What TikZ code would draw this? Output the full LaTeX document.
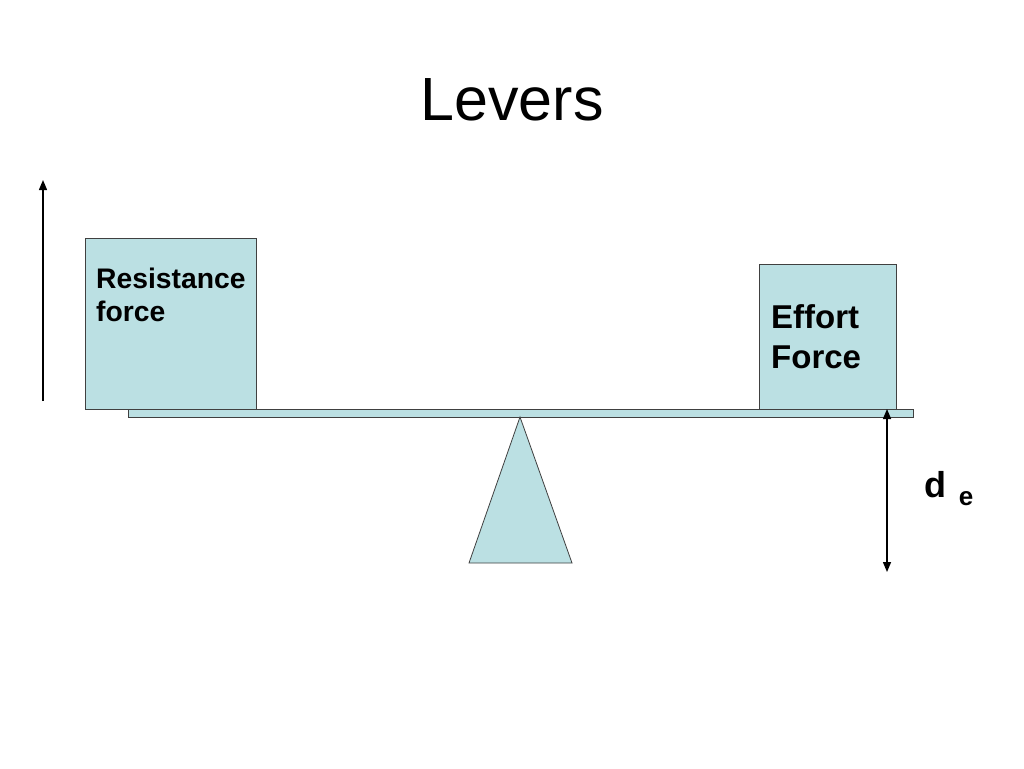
\documentclass[tikz,border=0pt]{standalone}
\usepackage{fontspec}
\setmainfont{Liberation Sans}
\usetikzlibrary{arrows.meta}
\definecolor{leverfill}{HTML}{BBE0E3}
\begin{document}
\begin{tikzpicture}[x=1pt,y=-1pt,
  part/.style={draw=black!75,line width=0.8pt,fill=leverfill},
  arr/.style={line width=1.4pt,-{Triangle[length=10pt,width=8pt]}},
  dbl/.style={line width=1.4pt,{Triangle[length=10pt,width=8pt]}-{Triangle[length=10pt,width=8pt]}},
  lbl/.style={font=\bfseries,align=left,anchor=north west,inner sep=0pt}]
\useasboundingbox[fill=white] (0,0) rectangle (1024,768);
\node[font=\fontsize{61}{70}\selectfont,anchor=base,inner sep=0pt] (title) at (512,120) {Levers};
% beam
\draw[part] (128,409) rectangle (913,417);
\coordinate (beamR) at (887,409);
% boxes
\draw[part] (85,238) rectangle (256,409);
\draw[part] (759,264) rectangle (896,409);
% fulcrum
\draw[part] (520,417) -- (572,563) -- (469,563) -- cycle;
% text
\node[lbl,font=\bfseries\fontsize{28.3}{33}\selectfont] (res) at (96,268) {Resistance\\force};
\node[lbl,font=\bfseries\fontsize{33}{40}\selectfont] (eff) at (771,304) {Effort\\Force};
% arrows
\coordinate (la0) at (43,401);
\coordinate (la1) at (43,180);
\draw[arr] (la0) -- (la1);
\coordinate (ra0) at (887,572);
\draw[dbl] (beamR) -- (ra0);
\node[font=\bfseries\fontsize{36}{40}\selectfont,anchor=base,inner sep=0pt] (d) at (935,497) {d};
\node[font=\bfseries\fontsize{26}{30}\selectfont,anchor=base,inner sep=0pt] (e) at (966,505) {e};
\end{tikzpicture}
\end{document}
